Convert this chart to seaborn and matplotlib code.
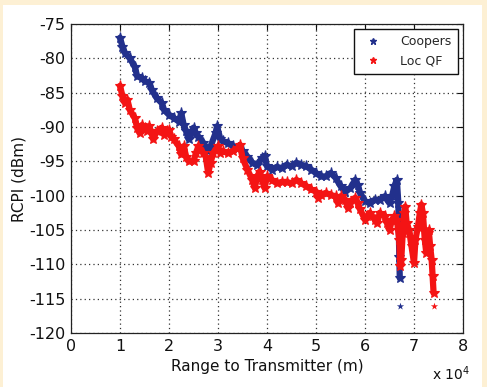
import numpy as np
import pandas as pd
import matplotlib
matplotlib.use("Agg")
import matplotlib.pyplot as plt
from matplotlib.lines import Line2D
from matplotlib.patches import Rectangle
import seaborn as sns

# ---- data (range in units of 1e4 m, RCPI in dBm) ----
coopers_x = [1.0, 1.05, 1.1, 1.2, 1.3, 1.35, 1.45, 1.5, 1.6, 1.65, 1.75, 1.85, 1.9, 2.0, 2.1,
             2.2, 2.25, 2.3, 2.35, 2.4, 2.5, 2.55, 2.6, 2.7, 2.8, 2.85, 2.95, 2.98, 3.05, 3.1,
             3.2, 3.3, 3.4, 3.5, 3.6, 3.7, 3.8, 3.9, 3.95, 4.0, 4.1, 4.2, 4.3, 4.4, 4.5, 4.6,
             4.7, 4.8, 4.9, 5.0, 5.1, 5.2, 5.3, 5.4, 5.5, 5.6, 5.7, 5.8, 5.85, 5.9, 6.0, 6.1,
             6.2, 6.3, 6.4, 6.5, 6.55, 6.6, 6.65, 6.68, 6.69, 6.70, 6.71]
coopers_y = [-77.0, -78.3, -79.2, -80.0, -81.2, -82.6, -82.9, -83.3, -83.6, -84.6, -85.8, -86.5,
             -87.5, -88.2, -88.7, -89.2, -88.0, -89.7, -90.6, -91.8, -90.1, -90.9, -91.4, -92.3,
             -93.5, -92.8, -90.9, -89.9, -91.8, -92.1, -92.3, -92.8, -93.1, -93.5, -94.3, -95.2,
             -95.5, -94.5, -94.2, -95.7, -96.2, -95.8, -96.0, -95.5, -95.7, -95.2, -95.5, -95.7,
             -96.2, -96.7, -97.2, -97.2, -96.7, -97.4, -98.6, -99.4, -98.9, -97.7, -98.4, -99.6,
             -100.8, -101.1, -100.6, -100.6, -100.1, -101.1, -100.1, -98.6, -97.7, -101.0,
             -105.0, -109.0, -112.0]
coopers_out_x = [6.71]
coopers_out_y = [-116.0]

locqf_x = [1.0, 1.05, 1.1, 1.15, 1.2, 1.3, 1.35, 1.4, 1.45, 1.5, 1.55, 1.6, 1.68, 1.75, 1.85,
           1.9, 1.95, 2.0, 2.05, 2.1, 2.2, 2.25, 2.3, 2.35, 2.4, 2.5, 2.55, 2.6, 2.7, 2.75,
           2.8, 2.85, 2.9, 3.0, 3.05, 3.1, 3.2, 3.3, 3.4, 3.45, 3.5, 3.6, 3.7, 3.75, 3.8,
           3.85, 3.9, 3.95, 4.0, 4.1, 4.2, 4.3, 4.4, 4.5, 4.6, 4.7, 4.8, 4.9, 5.0, 5.05, 5.1,
           5.2, 5.3, 5.4, 5.45, 5.5, 5.6, 5.65, 5.7, 5.8, 5.85, 5.9, 6.0, 6.05, 6.1, 6.2,
           6.25, 6.3, 6.4, 6.45, 6.5, 6.55, 6.6, 6.65, 6.7, 6.72, 6.74, 6.77, 6.8, 6.82,
           6.85, 6.9, 6.95, 7.0, 7.03, 7.08, 7.12, 7.15, 7.18, 7.22, 7.25, 7.28, 7.3, 7.33,
           7.36, 7.38, 7.4]
locqf_y = [-84.0, -85.5, -86.5, -86.0, -87.5, -88.7, -90.1, -90.9, -89.7, -90.1, -90.6, -89.9,
           -91.8, -90.6, -90.1, -91.1, -90.6, -90.4, -91.4, -91.8, -92.8, -94.0, -92.8, -94.3,
           -95.0, -95.0, -93.8, -92.8, -93.8, -94.3, -96.7, -95.2, -93.8, -92.8, -93.8, -93.5,
           -93.8, -93.5, -93.1, -92.6, -94.5, -96.2, -97.7, -98.9, -97.2, -96.5, -97.7, -98.9,
           -97.2, -97.7, -98.2, -98.0, -98.0, -98.2, -97.7, -98.2, -98.6, -99.1, -99.4, -100.3,
           -99.9, -99.6, -99.9, -100.1, -101.1, -100.1, -100.6, -101.8, -101.1, -100.3, -101.1,
           -102.0, -103.5, -103.0, -102.5, -103.5, -104.0, -102.5, -103.0, -104.0, -105.0,
           -103.5, -103.0, -103.5, -106.4, -110.3, -109.3, -105.4, -102.5, -101.6, -104.0,
           -105.0, -107.4, -109.8, -106.4, -104.5, -102.5, -101.3, -102.5, -106.4, -108.3,
           -105.4, -105.0, -107.4, -109.3, -111.7, -114.2]
locqf_out_x = [7.4]
locqf_out_y = [-116.0]

x_ticks = [0, 1, 2, 3, 4, 5, 6, 7, 8]
y_ticks = [-120, -115, -110, -105, -100, -95, -90, -85, -80, -75]

BLUE = "#22308c"
RED = "#f41414"

sns.set_style("white")
plt.rcParams["font.family"] = ["DejaVu Sans"]

fig = plt.figure(figsize=(4.87, 3.87), dpi=100)
fig.patch.set_facecolor("#fdf0d4")
fig.patches.append(Rectangle((3 / 487, 0), 479 / 487, 382 / 387, transform=fig.transFigure,
                             facecolor="white", edgecolor="none", zorder=-5))
ax = fig.add_axes([71 / 487, 54 / 387, 392 / 487, 309 / 387])
ax.set_zorder(2)
ax.set_facecolor("white")

df_c = pd.DataFrame({"x": coopers_x, "y": coopers_y})
df_r = pd.DataFrame({"x": locqf_x, "y": locqf_y})

sns.lineplot(data=df_c, x="x", y="y", ax=ax, color=BLUE, linewidth=4.5, sort=False,
             estimator=None, marker="*", markersize=8, markeredgewidth=0.8,
             markeredgecolor=BLUE, zorder=3)
sns.lineplot(data=df_r, x="x", y="y", ax=ax, color=RED, linewidth=4.5, sort=False,
             estimator=None, marker="*", markersize=8, markeredgewidth=0.8,
             markeredgecolor=RED, zorder=4)
sns.scatterplot(x=coopers_out_x, y=coopers_out_y, ax=ax, color=BLUE, marker="*", s=30,
                linewidth=0, zorder=5)
sns.scatterplot(x=locqf_out_x, y=locqf_out_y, ax=ax, color=RED, marker="*", s=30,
                linewidth=0, zorder=5)

ax.set_xlim(0, 8)
ax.set_ylim(-120, -75)
ax.set_xticks(x_ticks)
ax.set_yticks(y_ticks)
ax.set_xticklabels([str(t) for t in x_ticks])
ax.set_yticklabels([str(t) for t in y_ticks])
ax.tick_params(direction="in", top=True, right=True, length=4, width=0.8,
               labelsize=11.5, colors="#111111", pad=4)
ax.grid(True, color="#333333", linestyle=(0, (1, 2.5)), linewidth=0.9)
for s in ax.spines.values():
    s.set_visible(True)
    s.set_color("#222222")
    s.set_linewidth(0.9)

ax.set_xlabel("Range to Transmitter (m)", fontsize=11, color="#111111", labelpad=4)
ax.set_ylabel("RCPI (dBm)", fontsize=11, color="#111111", labelpad=2)

handles = [Line2D([], [], linestyle="none", marker="*", color=BLUE, markersize=5),
           Line2D([], [], linestyle="none", marker="*", color=RED, markersize=5)]
leg = ax.legend(handles, ["Coopers", "Loc QF"], loc="upper right", fontsize=9,
                frameon=True, fancybox=False, edgecolor="#111111", framealpha=1,
                borderpad=0.5, handletextpad=1.2, borderaxespad=0.4, labelspacing=0.5)
leg.get_frame().set_linewidth(1.0)

fig.text(470 / 487, 1 - 374 / 387, r"x 10$^{4}$", ha="right", va="center", fontsize=10,
         color="#111111")

fig.savefig("out.png", dpi=100, facecolor=fig.get_facecolor())
